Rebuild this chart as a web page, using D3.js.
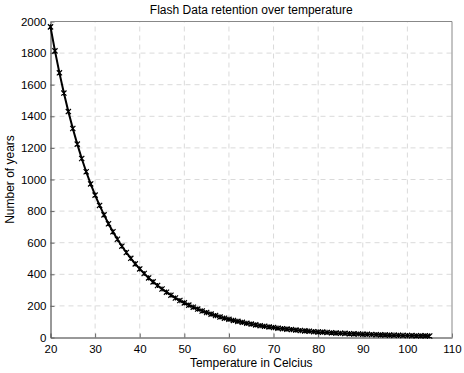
<!DOCTYPE html>
<html>
<head>
<meta charset="utf-8">
<script src="https://cdn.jsdelivr.net/npm/d3@7"></script>
<style>
  html, body { margin: 0; padding: 0; background: #fff; }
  svg { display: block; font-family: "Liberation Sans", Arial, sans-serif; }
</style>
</head>
<body>
<svg id="chart" width="464" height="373"></svg>
<script>
// [A] Datos -------------------------------------------------------------------
const temperatures = d3.range(20, 106); // 20..105 °C
const years = [
  1966, 1814, 1675, 1547, 1430, 1323, 1224, 1133, 1049, 972,
  901, 836, 776, 720, 669, 622, 578, 538, 501, 466,
  434, 405, 377, 352, 329, 307, 287, 268, 250, 234,
  219, 205, 192, 180, 168, 158, 148, 139, 130, 122,
  115, 108, 102, 96, 90, 85, 80, 75, 71, 67,
  63, 59, 56, 53, 50, 47, 44, 42, 40, 37,
  35, 34, 32, 30, 28, 27, 26, 24, 23, 22,
  21, 20, 19, 18, 17, 16, 15, 14.4, 13.7, 13.0,
  12.4, 11.8, 11.2, 10.7, 10.2, 9.7
];
const xTicks = [20, 30, 40, 50, 60, 70, 80, 90, 100, 110];
const yTicks = [0, 200, 400, 600, 800, 1000, 1200, 1400, 1600, 1800, 2000];
const title = "Flash Data retention over temperature";
const xLabel = "Temperature in Celcius";
const yLabel = "Number of years";

// [B] Configuración ------------------------------------------------------------
const margin = { left: 50.5, right: 12, top: 21.5, bottom: 35.5 };
const width = 464, height = 373;
const svg = d3.select("#chart");

const x = d3.scaleLinear().domain([20, 110]).range([margin.left, width - margin.right]);
const y = d3.scaleLinear().domain([0, 2000]).range([height - margin.bottom, margin.top]);

const data = temperatures.map((t, i) => ({ t, v: years[i] }));

// [C] Grilla -------------------------------------------------------------------
svg.append("g").selectAll("line")
  .data(xTicks.slice(1, -1))
  .join("line")
  .attr("x1", d => x(d)).attr("x2", d => x(d))
  .attr("y1", y(0)).attr("y2", y(2000))
  .attr("stroke", "#dadada").attr("stroke-dasharray", "5,4");

svg.append("g").selectAll("line")
  .data(yTicks.slice(1, -1))
  .join("line")
  .attr("x1", x(20)).attr("x2", x(110))
  .attr("y1", d => y(d)).attr("y2", d => y(d))
  .attr("stroke", "#dadada").attr("stroke-dasharray", "5,4");

// [D] Ejes ---------------------------------------------------------------------
const xAxis = svg.append("g")
  .attr("transform", `translate(0,${y(0)})`)
  .call(d3.axisBottom(x).tickValues(xTicks).tickFormat(d3.format("d"))
    .tickSizeInner(-4).tickSizeOuter(0).tickPadding(7));
const yAxis = svg.append("g")
  .attr("transform", `translate(${x(20)},0)`)
  .call(d3.axisLeft(y).tickValues(yTicks).tickFormat(d3.format("d"))
    .tickSizeInner(-4).tickSizeOuter(0).tickPadding(4));

[xAxis, yAxis].forEach(g => {
  g.select(".domain").attr("stroke", "#333");
  g.selectAll(".tick line").attr("stroke", "#666");
  g.selectAll(".tick text").attr("font-size", 11.5).attr("fill", "#000")
    .attr("font-family", "Liberation Sans, Arial, sans-serif");
});

// Borde superior y derecho
svg.append("path")
  .attr("d", `M${x(20)},${y(2000)}H${x(110)}V${y(0)}`)
  .attr("fill", "none").attr("stroke", "#888");

// [E] Curva y marcadores -------------------------------------------------------
const line = d3.line().x(d => x(d.t)).y(d => y(d.v));
svg.append("path")
  .datum(data)
  .attr("d", line)
  .attr("fill", "none").attr("stroke", "#000").attr("stroke-width", 2);

const s = 2.6;
svg.append("g").selectAll("path")
  .data(data)
  .join("path")
  .attr("d", d => {
    const cx = x(d.t), cy = y(d.v);
    return `M${cx - s},${cy - s}L${cx + s},${cy + s}M${cx - s},${cy + s}L${cx + s},${cy - s}` +
           `M${cx},${cy - s}L${cx},${cy + s}`;
  })
  .attr("stroke", "#000").attr("stroke-width", 1.2).attr("fill", "none");

// [F] Textos -------------------------------------------------------------------
svg.append("text")
  .attr("x", (x(20) + x(110)) / 2).attr("y", 14)
  .attr("text-anchor", "middle").attr("font-size", 12)
  .text(title);

svg.append("text")
  .attr("x", (x(20) + x(110)) / 2).attr("y", 367)
  .attr("text-anchor", "middle").attr("font-size", 12)
  .text(xLabel);

svg.append("text")
  .attr("transform", `translate(14,${(y(0) + y(2000)) / 2}) rotate(-90)`)
  .attr("text-anchor", "middle").attr("font-size", 12)
  .text(yLabel);
</script>
</body>
</html>
